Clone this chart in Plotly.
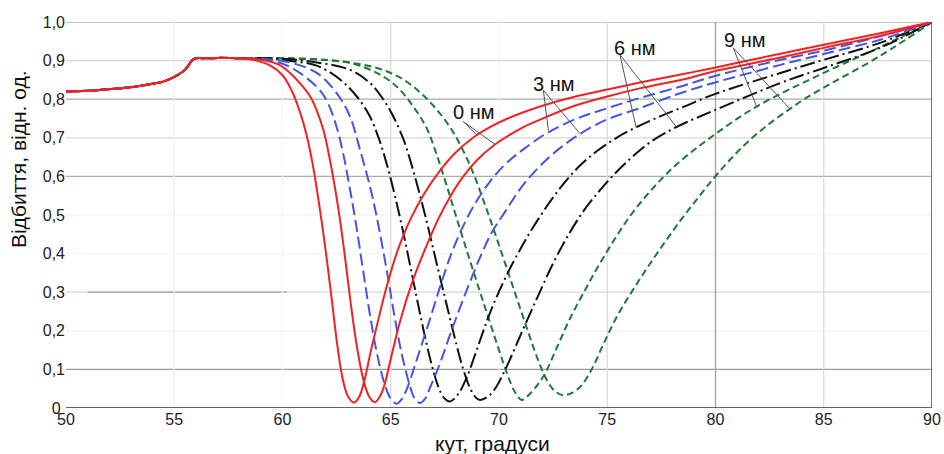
import plotly.graph_objects as go

# ---------------- data ----------------
base_x = [50, 51, 52, 53, 54, 54.5, 55, 55.5, 55.9, 56.5, 57, 57.5]
base_y = [0.820, 0.822, 0.826, 0.831, 0.840, 0.846, 0.858, 0.876, 0.904, 0.906, 0.907, 0.907]

red1_x = [58.0, 58.8, 59.4, 60.0, 60.4, 60.8, 61.1, 61.4, 61.7, 62.0, 62.3, 62.55, 62.8, 63.05, 63.3, 63.55,
          63.8, 64.05, 64.35, 64.8, 65.3, 65.9, 66.6, 67.3, 68.0, 68.8, 69.6, 70.4, 71.9, 73.4, 75.0, 76.5, 78.4,
          79.9, 83.0, 85.0, 87.6, 90.0]
red1_y = [0.906, 0.900, 0.888, 0.862, 0.825, 0.768, 0.710, 0.630, 0.525, 0.405, 0.270, 0.155, 0.070, 0.027, 0.014,
          0.030, 0.075, 0.140, 0.211, 0.312, 0.405, 0.488, 0.560, 0.617, 0.662, 0.700, 0.728, 0.750, 0.781, 0.805,
          0.825, 0.843, 0.864, 0.881, 0.918, 0.941, 0.971, 1.0]

red2_x = [58.0, 59.0, 59.8, 60.35, 60.9, 61.3, 61.6, 61.9, 62.2, 62.45, 62.65, 62.9, 63.15, 63.45, 63.75, 64.0,
          64.27, 64.5, 64.7, 64.97, 65.43, 66.05, 66.65, 67.2, 67.75, 68.3, 69.0, 69.8, 71.0, 71.9, 73.4, 75.0,
          76.5, 78.8, 79.9, 83.0, 85.0, 87.6, 90.0]
red2_y = [0.906, 0.902, 0.890, 0.868, 0.835, 0.805, 0.768, 0.718, 0.640, 0.562, 0.490, 0.385, 0.272, 0.155, 0.070,
          0.030, 0.015, 0.030, 0.058, 0.120, 0.225, 0.335, 0.420, 0.490, 0.548, 0.596, 0.643, 0.682, 0.724, 0.747,
          0.781, 0.807, 0.828, 0.855, 0.872, 0.908, 0.933, 0.964, 1.0]

blue1_x = [58.0, 59.0, 60.0, 60.8, 61.7, 62.1, 62.5, 62.8, 63.1, 63.4, 63.7, 64.0, 64.35, 64.7, 65.0, 65.27, 65.5,
           65.75, 66.2, 66.8, 67.3, 67.8, 68.35, 68.9, 69.6, 70.3, 71.12, 72.3, 73.74, 74.97, 76.5, 78.4, 79.9,
           83.0, 85.0, 87.6, 90.0]
blue1_y = [0.906, 0.903, 0.892, 0.868, 0.825, 0.790, 0.728, 0.660, 0.572, 0.475, 0.365, 0.255, 0.145, 0.065, 0.024,
           0.011, 0.022, 0.050, 0.125, 0.228, 0.318, 0.400, 0.472, 0.530, 0.588, 0.632, 0.670, 0.715, 0.753, 0.776,
           0.803, 0.833, 0.859, 0.902, 0.926, 0.963, 1.0]

blue2_x = [58.0, 59.5, 60.5, 61.58, 62.5, 63.12, 63.58, 64.04, 64.35, 64.81, 65.12, 65.5, 65.89, 66.1, 66.35, 66.6,
           66.81, 67.27, 67.74, 68.2, 68.7, 69.2, 69.7, 70.3, 71.12, 72.36, 73.74, 74.97, 76.51, 78.4, 79.9, 83.0,
           85.0, 87.6, 90.0]
blue2_y = [0.906, 0.903, 0.893, 0.868, 0.816, 0.755, 0.669, 0.574, 0.496, 0.358, 0.255, 0.142, 0.056, 0.025, 0.013,
           0.025, 0.052, 0.115, 0.190, 0.260, 0.332, 0.400, 0.458, 0.510, 0.578, 0.652, 0.710, 0.747, 0.777, 0.816,
           0.842, 0.889, 0.917, 0.954, 1.0]

black1_x = [58.0, 59.5, 60.4, 61.58, 62.66, 63.43, 64.04, 64.5, 64.85, 65.2, 65.55, 65.9, 66.25, 66.6, 66.9, 67.2,
            67.45, 67.74, 68.1, 68.5, 68.97, 69.58, 70.36, 70.97, 71.43, 72.2, 72.97, 73.74, 74.51, 75.43, 76.36,
            77.5, 78.6, 79.9, 83.0, 85.0, 87.6, 90.0]
black1_y = [0.906, 0.905, 0.899, 0.887, 0.851, 0.807, 0.755, 0.690, 0.625, 0.548, 0.462, 0.368, 0.272, 0.180, 0.110,
            0.055, 0.027, 0.017, 0.035, 0.078, 0.150, 0.246, 0.345, 0.410, 0.455, 0.522, 0.580, 0.628, 0.665, 0.700,
            0.728, 0.757, 0.782, 0.812, 0.868, 0.902, 0.946, 1.0]

black2_x = [58.0, 60.0, 61.5, 63.12, 64.04, 64.66, 65.12, 65.58, 65.9, 66.25, 66.6, 66.95, 67.3, 67.65, 68.0, 68.35,
            68.7, 68.95, 69.12, 69.5, 69.82, 70.36, 71.12, 71.8, 72.5, 73.2, 73.9, 74.6, 75.3, 76.05, 76.97, 78.2,
            79.9, 83.0, 85.0, 87.6, 90.0]
black2_y = [0.906, 0.905, 0.896, 0.876, 0.842, 0.799, 0.755, 0.697, 0.642, 0.572, 0.497, 0.415, 0.333, 0.252, 0.172,
            0.100, 0.047, 0.026, 0.021, 0.030, 0.050, 0.108, 0.205, 0.290, 0.375, 0.448, 0.510, 0.560, 0.604, 0.645,
            0.688, 0.728, 0.770, 0.842, 0.881, 0.933, 1.0]

green1_x = [58.0, 60.0, 61.6, 63.12, 64.35, 65.27, 66.04, 66.66, 67.1, 67.55, 68.0, 68.5, 69.0, 69.5, 70.0, 70.4,
            70.75, 71.05, 71.4, 72.05, 72.66, 73.28, 73.97, 74.51, 75.28, 76.05, 76.82, 77.59, 78.36, 79.9, 81.9,
            85.0, 87.6, 90.0]
green1_y = [0.906, 0.906, 0.903, 0.894, 0.868, 0.833, 0.781, 0.725, 0.660, 0.582, 0.500, 0.410, 0.322, 0.236, 0.150,
            0.085, 0.040, 0.021, 0.035, 0.082, 0.155, 0.232, 0.305, 0.360, 0.432, 0.497, 0.551, 0.598, 0.639, 0.706,
            0.781, 0.868, 0.935, 1.0]

green2_x = [58.0, 60.0, 62.35, 64.35, 65.58, 66.5, 67.2, 67.8, 68.3, 68.8, 69.3, 69.8, 70.3, 70.8, 71.3, 71.8,
            72.25, 72.6, 72.97, 73.4, 73.8, 74.28, 74.82, 75.43, 76.12, 76.81, 77.59, 78.36, 79.13, 79.9, 80.67,
            81.5, 82.5, 83.44, 84.1, 85.0, 87.6, 90.0]
green2_y = [0.906, 0.906, 0.900, 0.881, 0.851, 0.810, 0.768, 0.722, 0.672, 0.610, 0.535, 0.455, 0.372, 0.288, 0.205,
            0.125, 0.068, 0.043, 0.033, 0.040, 0.058, 0.100, 0.165, 0.235, 0.300, 0.360, 0.424, 0.484, 0.540, 0.594,
            0.643, 0.690, 0.737, 0.775, 0.800, 0.830, 0.912, 1.0]

y_tick_vals = [0, 0.1, 0.2, 0.3, 0.4, 0.5, 0.6, 0.7, 0.8, 0.9, 1.0]
y_tick_text = ["0\u00a0", "0,1", "0,2", "0,3", "0,4", "0,5", "0,6", "0,7", "0,8", "0,9", "1,0"]
x_tick_vals = [50, 55, 60, 65, 70, 75, 80, 85, 90]
x_tick_text = ["50", "55", "60", "65", "70", "75", "80", "85", "90"]

label_text = ["0 нм", "3 нм", "6 нм", "9 нм"]
label_pos = [(68.84, 0.767), (72.5, 0.84), (76.28, 0.933), (81.32, 0.954)]
leader_start = [(68.35, 0.742), (72.05, 0.823), (75.59, 0.915), (80.82, 0.933)]
leader_tips = [[(68.97, 0.708), (69.82, 0.683)],
               [(72.28, 0.719), (73.74, 0.711)],
               [(76.33, 0.727), (78.2, 0.728)],
               [(81.9, 0.781), (83.44, 0.775)]]

# ---------------- styles ----------------
RED = "#f02222"
BLUE = "#4656dc"
BLACK = "#111111"
GREEN = "#1d7a36"
FONT = "Liberation Sans, Arial, sans-serif"

series = [
    (green2_x, green2_y, GREEN, "7px,4px", "9 нм (2)"),
    (green1_x, green1_y, GREEN, "7px,4px", "9 нм (1)"),
    (black2_x, black2_y, BLACK, "15px,4px,2px,4px", "6 нм (2)"),
    (black1_x, black1_y, BLACK, "15px,4px,2px,4px", "6 нм (1)"),
    (blue2_x, blue2_y, BLUE, "12px,5px", "3 нм (2)"),
    (blue1_x, blue1_y, BLUE, "12px,5px", "3 нм (1)"),
    (red2_x, red2_y, RED, "solid", "0 нм (2)"),
    (red1_x, red1_y, RED, "solid", "0 нм (1)"),
]

fig = go.Figure()
for xs, ys, col, dash, name in series:
    fig.add_trace(go.Scatter(
        x=base_x + xs, y=base_y + ys, mode="lines", name=name,
        line=dict(color=col, width=2, dash=dash, shape="spline", smoothing=1.0),
        hoverinfo="skip"))

shapes = []
# horizontal grid
hgrid_colors = {0.1: "#9a9a9a", 0.2: "#f3f3f3", 0.3: "#d8d8d8", 0.4: "#f5f5f5", 0.5: "#f5f5f5",
                0.6: "#ababab", 0.7: "#d6d6d6", 0.8: "#ababab", 0.9: "#d6d6d6", 1.0: "#b4b4b4"}
for v in y_tick_vals[1:]:
    shapes.append(dict(type="line", xref="x", yref="y", x0=50, x1=90, y0=v, y1=v,
                       line=dict(color=hgrid_colors[v], width=1.3), layer="below"))
shapes.append(dict(type="line", xref="x", yref="y", x0=51.0, x1=60.2, y0=0.3, y1=0.3,
                   line=dict(color="#9c9c9c", width=1.3), layer="below"))
# vertical grid
vgrid_colors = {55: "#f1f1f1", 60: "#f6f6f6", 65: "#dcdcdc", 70: "#f4f4f4", 75: "#dcdcdc",
                80: "#a0a0a0", 85: "#dcdcdc"}
for v in x_tick_vals[1:-1]:
    shapes.append(dict(type="line", xref="x", yref="y", x0=v, x1=v, y0=0, y1=1.0,
                       line=dict(color=vgrid_colors[v], width=1.3), layer="below"))
# right border and bottom axis
shapes.append(dict(type="line", xref="x", yref="y", x0=90, x1=90, y0=0, y1=1.0,
                   line=dict(color="#666666", width=1.8), layer="below"))
shapes.append(dict(type="line", xref="x", yref="y", x0=50, x1=90, y0=0, y1=0,
                   line=dict(color="#666666", width=1.8), layer="below"))
# leader lines
for (sx, sy), tips in zip(leader_start, leader_tips):
    for tx, ty in tips:
        shapes.append(dict(type="line", xref="x", yref="y", x0=sx, y0=sy, x1=tx, y1=ty,
                           line=dict(color="#555555", width=1)))

annotations = []
for t, (ax_, ay_) in zip(label_text, label_pos):
    annotations.append(dict(x=ax_, y=ay_, xref="x", yref="y", text=t, showarrow=False,
                            font=dict(family=FONT, size=20, color="#111111"),
                            xanchor="center", yanchor="middle"))
annotations.append(dict(x=-0.0554, y=0.645, xref="paper", yref="paper", text="Відбиття, відн. од.",
                        textangle=-90, showarrow=False, xanchor="center", yanchor="middle",
                        font=dict(family=FONT, size=21, color="#111111")))
annotations.append(dict(x=0.493, y=-0.093, xref="paper", yref="paper", text="кут, градуси",
                        showarrow=False, xanchor="center", yanchor="middle",
                        font=dict(family=FONT, size=21, color="#111111")))

fig.update_layout(
    width=944, height=454, autosize=False,
    margin=dict(l=66, r=12, t=22, b=46, autoexpand=False),
    paper_bgcolor="white", plot_bgcolor="white",
    showlegend=False,
    shapes=shapes, annotations=annotations,
    xaxis=dict(range=[50, 90], tickvals=x_tick_vals, ticktext=x_tick_text, showgrid=False,
               zeroline=False, showline=False, ticks="", ticklen=0, automargin=False,
               tickfont=dict(family=FONT, size=16, color="#222222")),
    yaxis=dict(range=[0, 1.0], tickvals=y_tick_vals, ticktext=y_tick_text, showgrid=False,
               zeroline=False, showline=False, ticks="", ticklen=0, automargin=False,
               tickfont=dict(family=FONT, size=16, color="#222222")),
)

# remove the default page margin so the 944x454 figure fills the window exactly
fig.write_html("out.html",
               config={"displayModeBar": False, "responsive": False},
               post_script="document.body.style.margin='0';document.body.style.padding='0';"
                           "document.body.style.overflow='hidden';")
